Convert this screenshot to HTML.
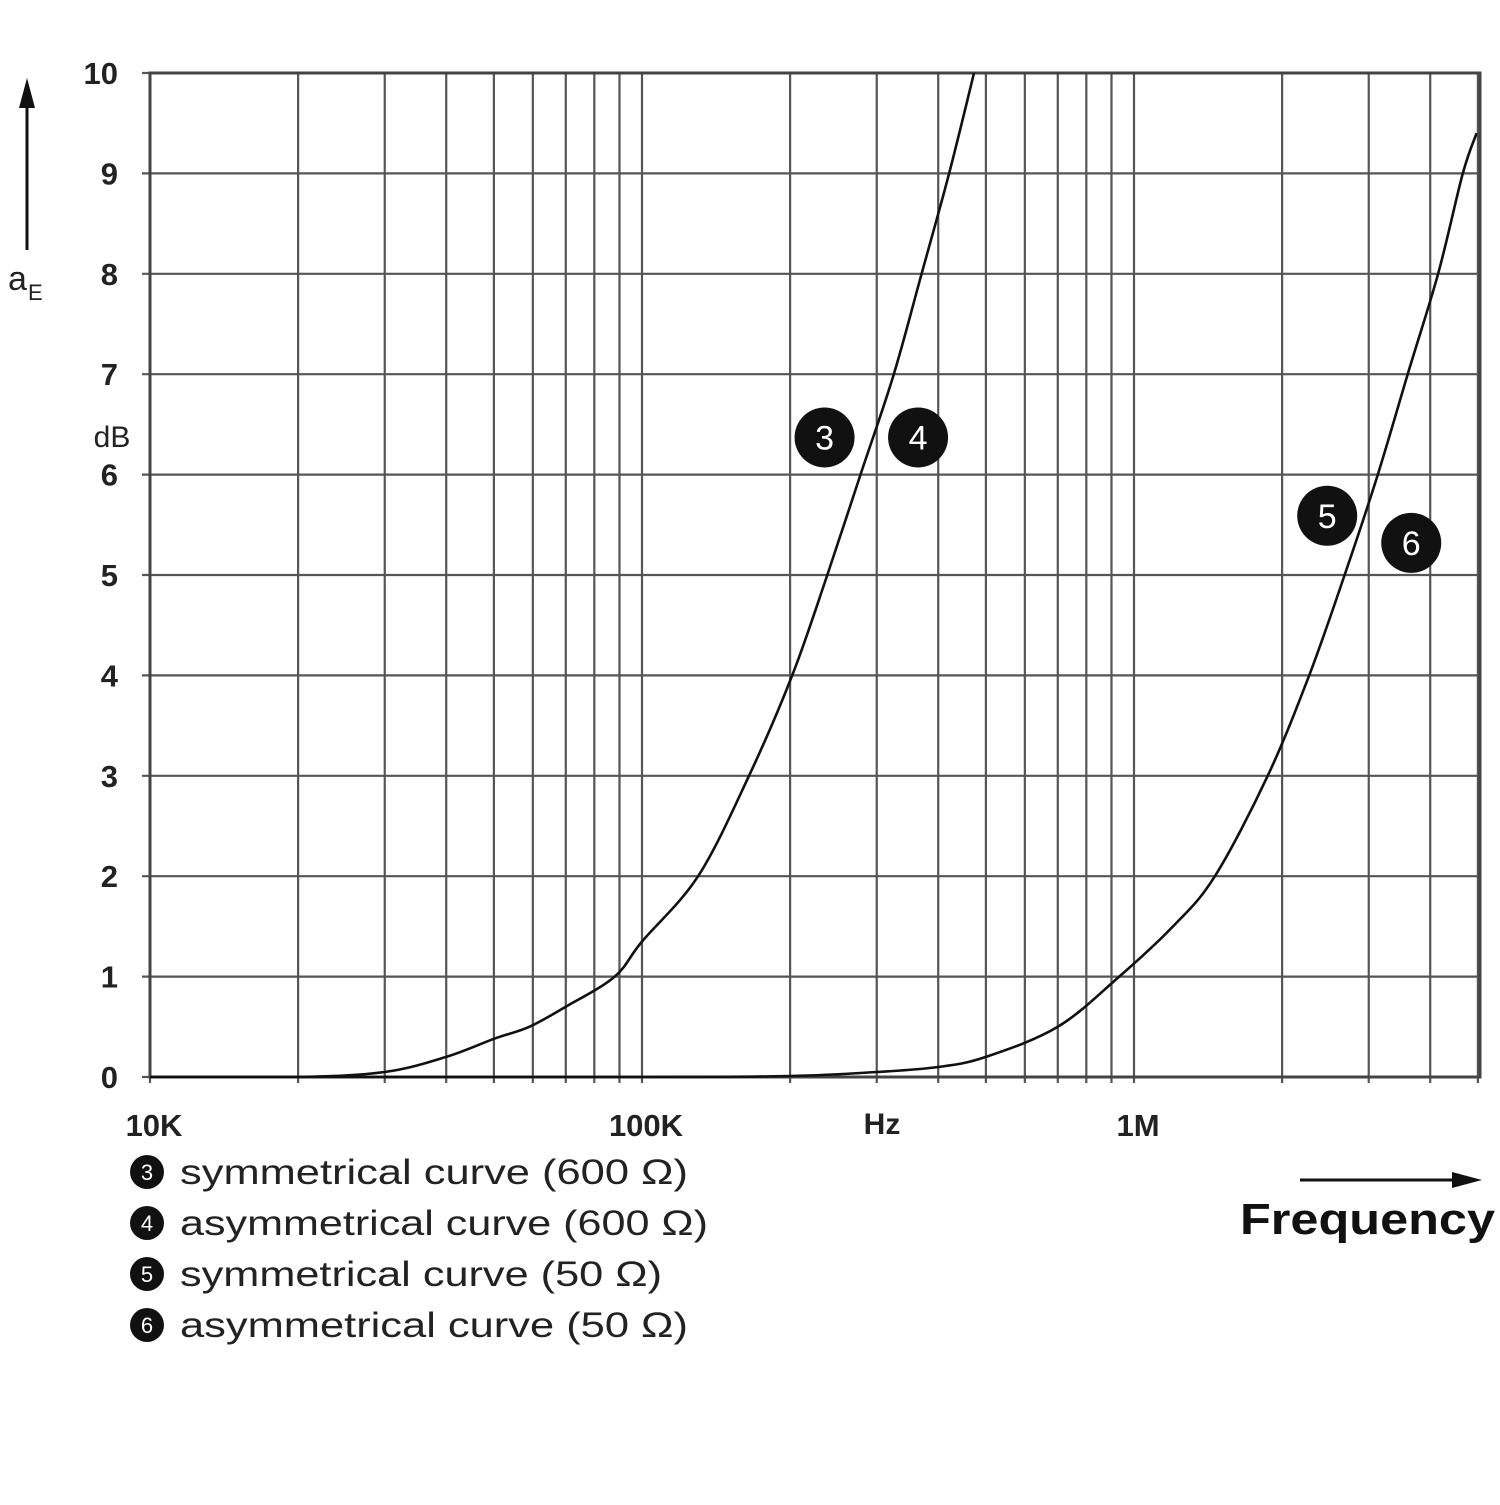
<!DOCTYPE html>
<html><head><meta charset="utf-8"><style>
html,body{margin:0;padding:0;background:#fff;}
svg text{font-family:"Liberation Sans",sans-serif;}
</style></head><body>
<svg id="chart" width="1500" height="1500" viewBox="0 0 1500 1500" xmlns="http://www.w3.org/2000/svg">
<g id="grid"></g>
<g id="curves"></g>
<g id="labels"></g>
</svg>
<script>
const yTicks=[0,1,2,3,4,5,6,7,8,9,10];
const xGrid=[1e4,2e4,3e4,4e4,5e4,6e4,7e4,8e4,9e4,1e5,2e5,3e5,4e5,5e5,6e5,7e5,8e5,9e5,1e6,2e6,3e6,4e6,5e6];
const xTickValues=[1e4,1e5,1e6];
const xTickLabels=["10K","100K","1M"];
const curveAFreq=[1e4,2e4,3e4,4e4,5e4,5.9e4,7e4,8.8e4,1.0e5,1.3e5,1.65e5,2.02e5,2.38e5,2.78e5,3.25e5,3.7e5,4.21e5,4.73e5];
const curveAVal=[0,0,0.05,0.2,0.38,0.5,0.7,1,1.35,2,3,4,5,6,7,8,9,10];
const curveBFreq=[1e4,1e5,2e5,3e5,4e5,5e5,7e5,9.33e5,1.2e6,1.46e6,1.87e6,2.27e6,2.68e6,3.13e6,3.6e6,4.15e6,4.66e6,4.97e6];
const curveBVal=[0,0,0.01,0.05,0.1,0.2,0.5,1,1.5,2,3,4,5,6,7,8,9,9.4];
const markerLabels=["3","4","5","6"];
const markerFreq=[2.35e5,3.64e5,2.47e6,3.66e6];
const markerVal=[6.37,6.37,5.59,5.32];
const legendItems=["symmetrical curve (600 Ω)","asymmetrical curve (600 Ω)","symmetrical curve (50 Ω)","asymmetrical curve (50 Ω)"];
const legendWidths=[508,528,482,508];

const X0=150,DEC=492,Y0=1077,DY=100.4,XR=1480,YT=73;
const xs=f=>X0+DEC*(Math.log10(f)-4);
const ys=v=>Y0-DY*v;
const NS="http://www.w3.org/2000/svg";
function mk(tag,attrs,parent,txt){const e=document.createElementNS(NS,tag);for(const k in attrs)e.setAttribute(k,attrs[k]);if(txt!==undefined)e.textContent=txt;parent.appendChild(e);return e;}
const grid=document.getElementById('grid'),curves=document.getElementById('curves'),labels=document.getElementById('labels');

xGrid.forEach(f=>{const x=xs(f);const l=mk('line',{x1:x,y1:YT,x2:x,y2:Y0+6,stroke:'#555','stroke-width':2.2},grid);

});
yTicks.forEach(v=>{const y=ys(v);const l=mk('line',{x1:X0-8,y1:y,x2:XR,y2:y,stroke:'#555','stroke-width':2.2},grid);


const t=mk('text',{x:118,y:y+11,'text-anchor':'end','font-size':31,'font-weight':'bold',fill:'#222'},labels,String(v));

});
const fr=mk('rect',{x:X0,y:YT,width:XR-X0,height:Y0-YT,fill:'none',stroke:'#444','stroke-width':3},grid);



xTickValues.forEach((f,i)=>{const t=mk('text',{x:xs(f)+4,y:1136,'text-anchor':'middle','font-size':31,'font-weight':'bold',fill:'#222'},labels,xTickLabels[i]);

});

function curve(F,V,name){
const P=F.map((f,i)=>[xs(f),ys(V[i])]);
let d='M'+P[0][0].toFixed(1)+','+P[0][1].toFixed(1);
for(let i=0;i<P.length-1;i++){
const p0=P[Math.max(0,i-1)],p1=P[i],p2=P[i+1],p3=P[Math.min(P.length-1,i+2)];
const c1=[p1[0]+(p2[0]-p0[0])/6,p1[1]+(p2[1]-p0[1])/6];
const c2=[p2[0]-(p3[0]-p1[0])/6,p2[1]-(p3[1]-p1[1])/6];
c1[1]=Math.min(c1[1],Y0);c2[1]=Math.min(c2[1],Y0);
d+=' C'+c1[0].toFixed(1)+','+c1[1].toFixed(1)+' '+c2[0].toFixed(1)+','+c2[1].toFixed(1)+' '+p2[0].toFixed(1)+','+p2[1].toFixed(1);}
const p=mk('path',{d:d,fill:'none',stroke:'#111','stroke-width':2.6,'stroke-linejoin':'round'},curves);

}
curve(curveAFreq,curveAVal,'curve-600-ohm');
curve(curveBFreq,curveBVal,'curve-50-ohm');

markerLabels.forEach((s,i)=>{const g=mk('g',{},labels);


mk('circle',{cx:xs(markerFreq[i]),cy:ys(markerVal[i]),r:30,fill:'#111'},g);
mk('text',{x:xs(markerFreq[i]),y:ys(markerVal[i])+12,'text-anchor':'middle','font-size':34,fill:'#fff'},g,s);});

legendItems.forEach((s,i)=>{const y=1172+i*51;const g=mk('g',{},labels);


mk('circle',{cx:147,cy:y,r:17,fill:'#111'},g);
mk('text',{x:147,y:y+8,'text-anchor':'middle','font-size':22,fill:'#fff'},g,String(i+3));
mk('text',{x:180,y:y+12,'font-size':35,fill:'#222',textLength:legendWidths[i],lengthAdjust:'spacingAndGlyphs'},g,s);});
</script>
<svg style="position:absolute;left:0;top:0" width="1500" height="1500">
<text x="882" y="1134" text-anchor="middle" font-size="30" font-weight="bold" fill="#222" font-family="Liberation Sans, sans-serif">Hz</text>
<text x="112" y="447" text-anchor="middle" font-size="30" fill="#222" font-family="Liberation Sans, sans-serif">dB</text>
<g>
<line x1="27" y1="100" x2="27" y2="250" stroke="#111" stroke-width="3"/>
<polygon points="27,78 19,108 35,108" fill="#111"/>
<text x="8" y="290" font-size="34" fill="#222" font-family="Liberation Sans, sans-serif">a</text>
<text x="28" y="300" font-size="22" fill="#222" font-family="Liberation Sans, sans-serif">E</text>
</g>
<g>
<line x1="1300" y1="1180" x2="1460" y2="1180" stroke="#111" stroke-width="3"/>
<polygon points="1482,1180 1452,1172 1452,1188" fill="#111"/>
<text x="1240" y="1234" font-size="44" font-weight="bold" fill="#111" font-family="Liberation Sans, sans-serif" textLength="255" lengthAdjust="spacingAndGlyphs">Frequency</text>
</g>
</svg>
</body></html>
